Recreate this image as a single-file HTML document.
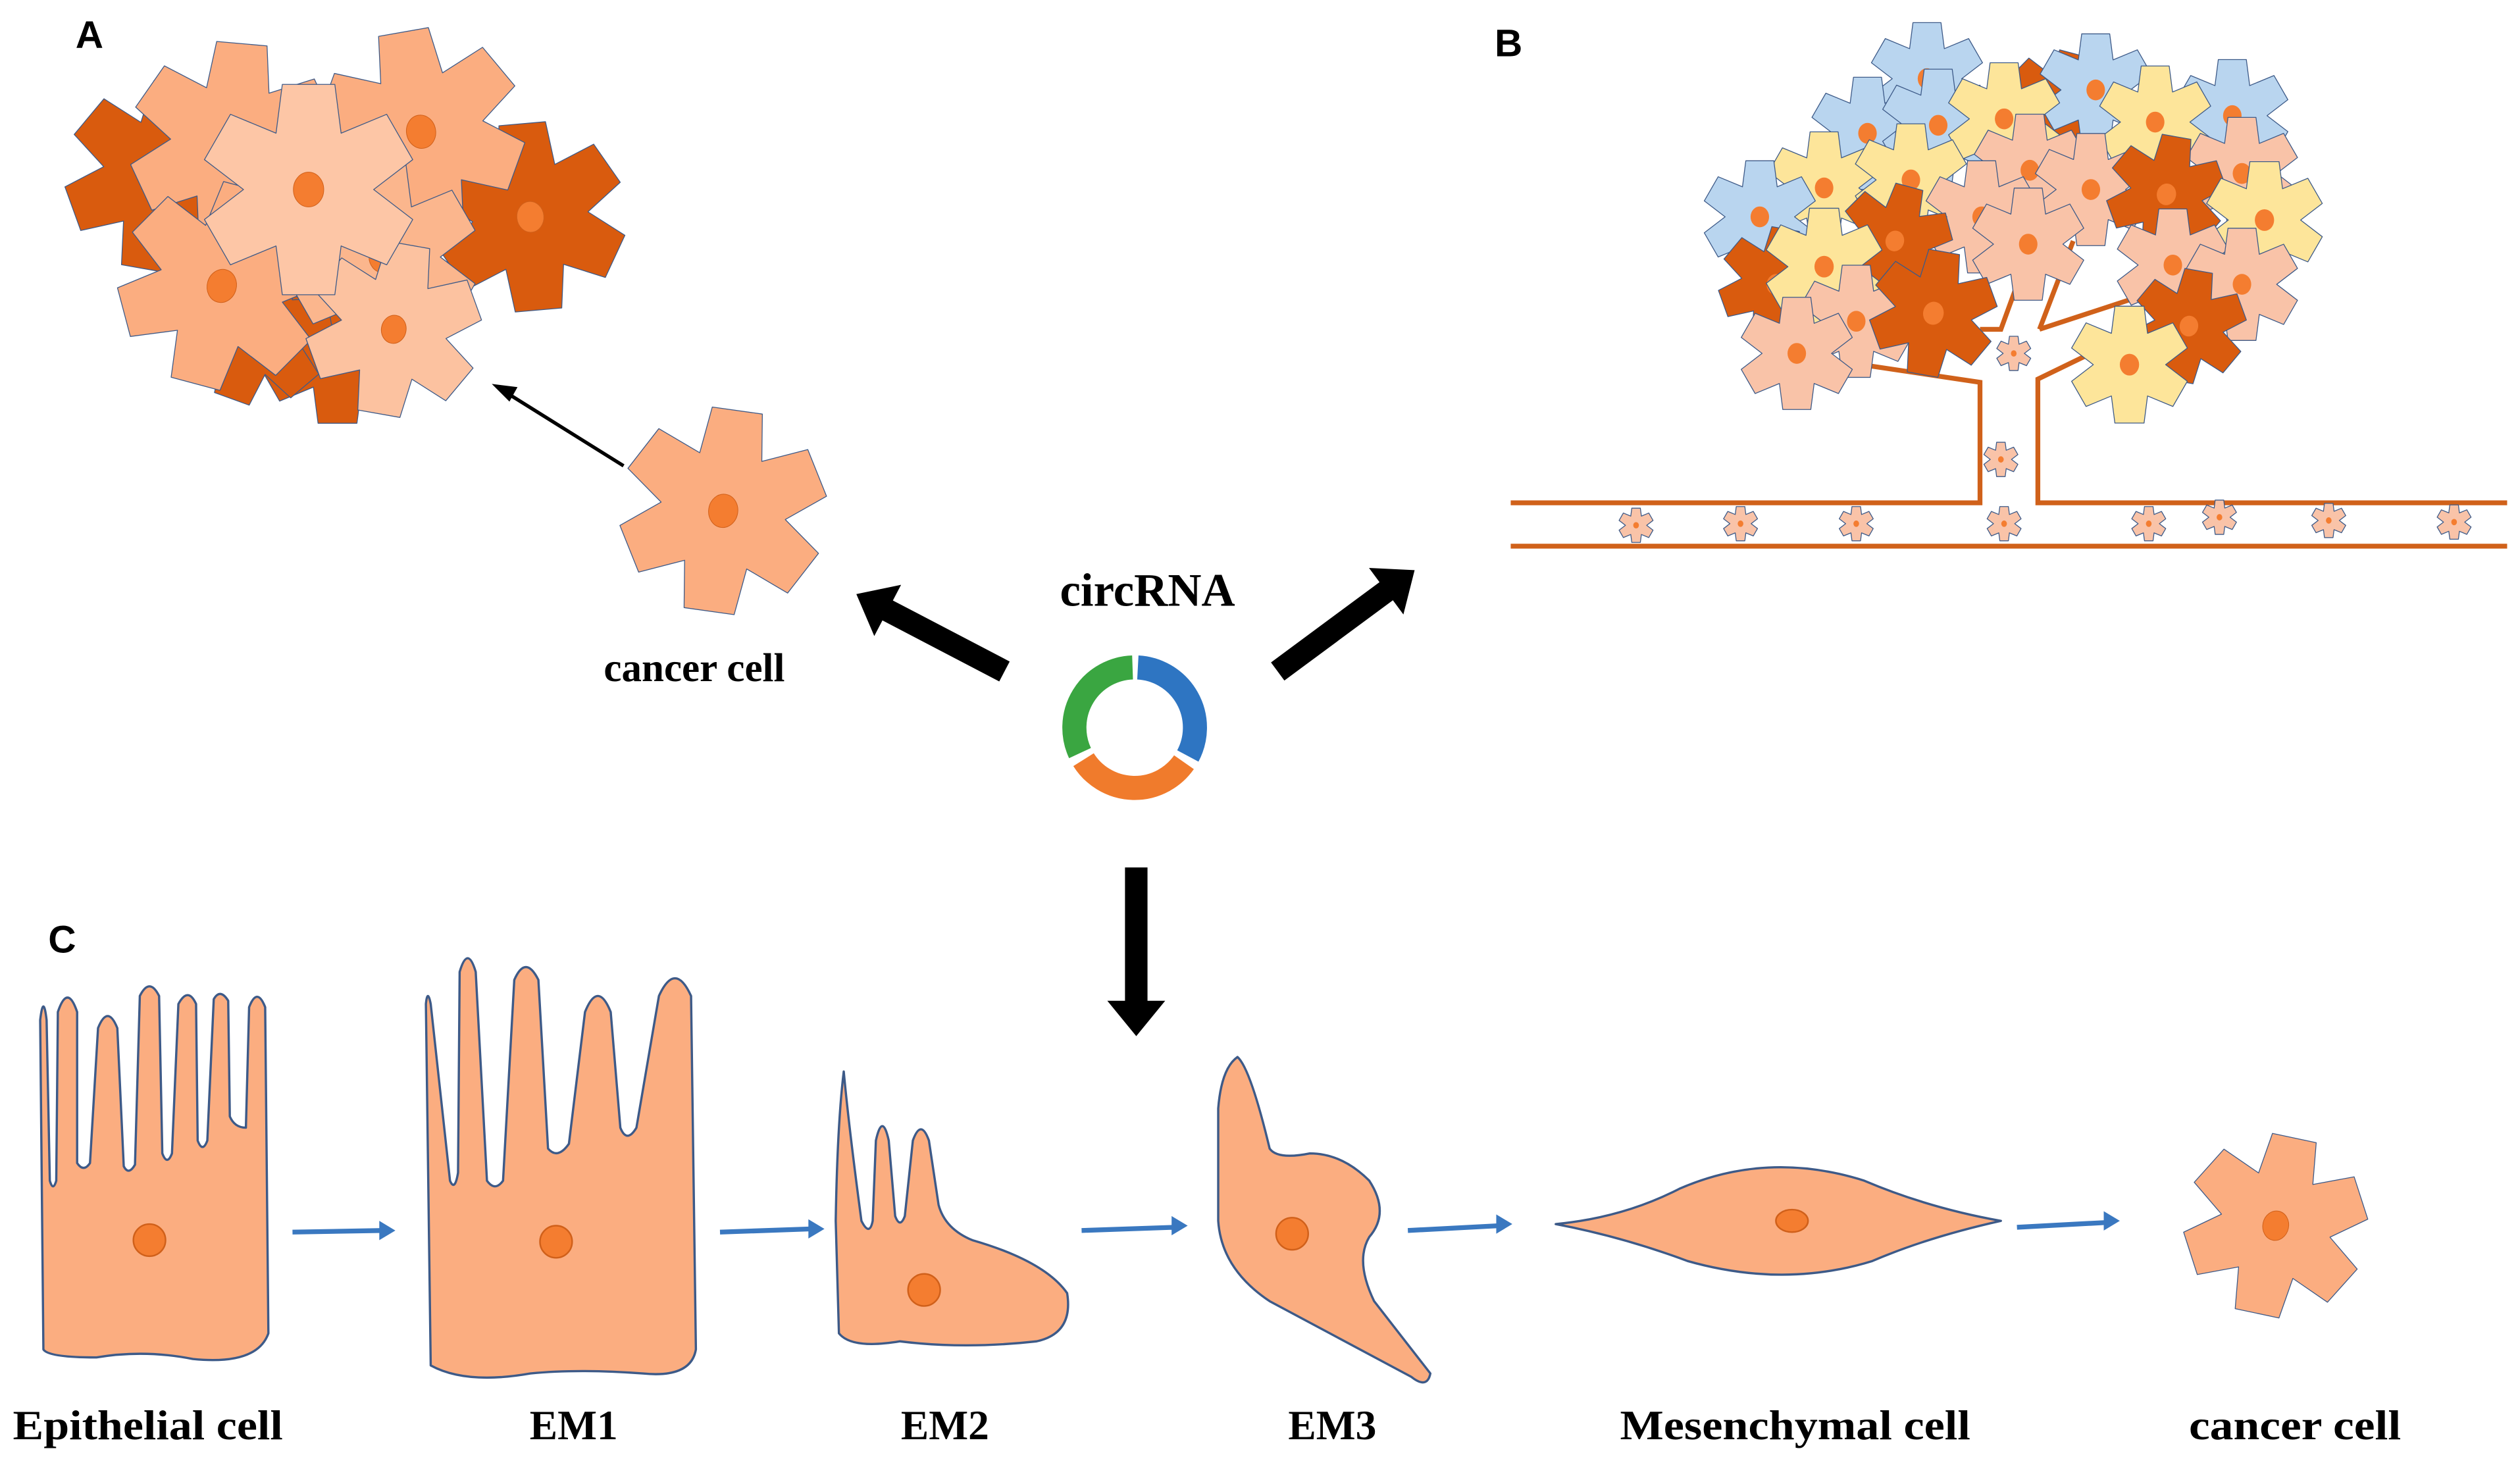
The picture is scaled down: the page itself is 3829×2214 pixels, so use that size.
<!DOCTYPE html>
<html><head><meta charset="utf-8"><style>html,body{margin:0;padding:0;background:#fff}svg{display:block}</style></head>
<body>
<svg width="3829" height="2214" viewBox="0 0 1568 907" preserveAspectRatio="none" xmlns="http://www.w3.org/2000/svg">
<defs>
<path id="st" d="M-12.1,-48.5 L12.1,-48.5 L15,-26 L36,-34.7 L48,-13.8 L30,0 L48,13.8 L36,34.7 L15,26 L12.1,48.5 L-12.1,48.5 L-15,26 L-36,34.7 L-48,13.8 L-30,0 L-48,-13.8 L-36,-34.7 L-15,-26 Z" stroke="#3d5a88" stroke-width="1.3" stroke-linejoin="round" vector-effect="non-scaling-stroke"/>
<g id="cell"><use href="#st"/><ellipse cx="0" cy="0" rx="7" ry="8" fill="#f47d30" stroke="#d0601a" stroke-width="1" vector-effect="non-scaling-stroke"/></g>
<g id="cellB"><use href="#st"/><ellipse cx="0" cy="0" rx="8" ry="9" fill="#f47d30"/></g>
</defs>

<g font-family="Liberation Sans, sans-serif" font-weight="bold" font-size="24" fill="#000">
<text x="47" y="30">A</text><text x="930" y="35">B</text><text x="30" y="593">C</text>
</g>

<!-- Panel A cluster -->
<g>
<use href="#cell" fill="#d95b0e" transform="translate(100,110) rotate(10) scale(1.2)"/>
<use href="#cell" fill="#d95b0e" transform="translate(330,135) rotate(-5) scale(1.2)"/>
<use href="#cell" fill="#d95b0e" transform="translate(210,215) rotate(0) scale(1.0)"/>
<use href="#cell" fill="#d95b0e" transform="translate(160,205) rotate(20) scale(0.95)"/>
<use href="#cell" fill="#fbad80" transform="translate(145,90) rotate(5) scale(1.3)"/>
<use href="#cell" fill="#fbad80" transform="translate(262,82) rotate(-10) scale(1.3)"/>
<use href="#cell" fill="#fbad80" transform="translate(138,178) rotate(15) scale(1.3)"/>
<use href="#cell" fill="#fbb68d" transform="translate(238,160) rotate(0) scale(1.2)"/>
<use href="#cell" fill="#fcc2a0" transform="translate(245,205) rotate(10) scale(1.1)"/>
<use href="#cell" fill="#fdc6a6" transform="translate(192,118) rotate(0) scale(1.35)"/>
</g>
<line x1="388" y1="290" x2="316" y2="245" stroke="#000" stroke-width="2.2"/>
<polygon points="306,239 322,241 317,250" fill="#000"/>

<use href="#cell" fill="#fbad80" transform="translate(450,318) rotate(8) scale(1.3)"/>
<text x="432" y="424" text-anchor="middle" font-family="Liberation Serif, serif" font-weight="bold" font-size="25">cancer cell</text>

<!-- circRNA -->
<text x="714" y="377" text-anchor="middle" font-family="Liberation Serif, serif" font-weight="bold" font-size="29">circRNA</text>
<g fill="none" stroke-width="15">
<path d="M708,415.5 A37.5,37.5 0 0 1 739.1,470.6" stroke="#2e75c2"/>
<path d="M736.7,474.5 A37.5,37.5 0 0 1 674.2,472.9" stroke="#f07b2c"/>
<path d="M672,468.8 A37.5,37.5 0 0 1 704.7,415.5" stroke="#3aa641"/>
</g>

<!-- black arrows -->
<g fill="#000">
<g transform="translate(625,418) rotate(207.6)"><rect x="0" y="-7" width="84" height="14"/><polygon points="82,-18 104,0 82,18"/></g>
<g transform="translate(795,418) rotate(-36.5)"><rect x="0" y="-7" width="86" height="14"/><polygon points="84,-18 106,0 84,18"/></g>
<g transform="translate(707,540) rotate(90)"><rect x="0" y="-7" width="85" height="14"/><polygon points="83,-18 105,0 83,18"/></g>
</g>

<!-- Panel B -->
<g stroke="#d0611a" stroke-width="3" fill="none">
<polyline points="940,313 1232,313 1232,238 1145,225"/>
<polyline points="1560,313 1268,313 1268,236 1305,218"/>
<line x1="940" y1="340" x2="1560" y2="340"/>
<polyline points="1269,205 1330,185"/>
<polyline points="1269,205 1290,150"/>
<polyline points="1232,205 1245,205 1265,150"/>
</g>
<g>
<use href="#cellB" fill="#b9d5ef" transform="translate(1199,49) scale(0.72)"/>
<use href="#cellB" fill="#d95b0e" transform="translate(1281,67) rotate(15) scale(0.72)"/>
<use href="#cellB" fill="#b9d5ef" transform="translate(1304,56) scale(0.72)"/>
<use href="#cellB" fill="#b9d5ef" transform="translate(1389,72) scale(0.72)"/>
<use href="#cellB" fill="#b9d5ef" transform="translate(1162,83) scale(0.72)"/>
<use href="#cellB" fill="#b9d5ef" transform="translate(1206,78) scale(0.72)"/>
<use href="#cellB" fill="#fde59a" transform="translate(1247,74) scale(0.72)"/>
<use href="#cellB" fill="#fde59a" transform="translate(1341,76) scale(0.72)"/>
<use href="#cellB" fill="#f9c3a8" transform="translate(1395,108) scale(0.72)"/>
<use href="#cellB" fill="#f9c3a8" transform="translate(1263,106) scale(0.72)"/>
<use href="#cellB" fill="#f9c3a8" transform="translate(1301,118) scale(0.72)"/>
<use href="#cellB" fill="#fde59a" transform="translate(1135,117) scale(0.72)"/>
<use href="#cellB" fill="#fde59a" transform="translate(1189,112) scale(0.72)"/>
<use href="#cellB" fill="#b9d5ef" transform="translate(1095,135) scale(0.72)"/>
<use href="#cellB" fill="#d95b0e" transform="translate(1348,121) rotate(10) scale(0.75)"/>
<use href="#cellB" fill="#f9c3a8" transform="translate(1233,135) scale(0.72)"/>
<use href="#cellB" fill="#f9c3a8" transform="translate(1262,152) scale(0.72)"/>
<use href="#cellB" fill="#fde59a" transform="translate(1409,137) scale(0.75)"/>
<use href="#cellB" fill="#d95b0e" transform="translate(1105,177) rotate(10) scale(0.72)"/>
<use href="#cellB" fill="#d95b0e" transform="translate(1179,150) rotate(15) scale(0.72)"/>
<use href="#cellB" fill="#fde59a" transform="translate(1135,166) scale(0.75)"/>
<use href="#cellB" fill="#f9c3a8" transform="translate(1352,165) scale(0.72)"/>
<use href="#cellB" fill="#f9c3a8" transform="translate(1395,177) scale(0.72)"/>
<use href="#cellB" fill="#f9c3a8" transform="translate(1155,200) scale(0.72)"/>
<use href="#cellB" fill="#d95b0e" transform="translate(1203,195) rotate(10) scale(0.8)"/>
<use href="#cellB" fill="#f9c3a8" transform="translate(1118,220) scale(0.72)"/>
<use href="#cellB" fill="#d95b0e" transform="translate(1362,203) rotate(10) scale(0.72)"/>
<use href="#cellB" fill="#fde59a" transform="translate(1325,227) scale(0.75)"/>
</g>
<g fill="#f9c3a8">
<use href="#cellB" transform="translate(1253,220) scale(0.22)"/>
<use href="#cellB" transform="translate(1245,286) scale(0.22)"/>
<use href="#cellB" transform="translate(1018,327) scale(0.22)"/>
<use href="#cellB" transform="translate(1083,326) scale(0.22)"/>
<use href="#cellB" transform="translate(1155,326) scale(0.22)"/>
<use href="#cellB" transform="translate(1247,326) scale(0.22)"/>
<use href="#cellB" transform="translate(1337,326) scale(0.22)"/>
<use href="#cellB" transform="translate(1381,322) scale(0.22)"/>
<use href="#cellB" transform="translate(1449,324) scale(0.22)"/>
<use href="#cellB" transform="translate(1527,325) scale(0.22)"/>
</g>

<!-- Panel C -->
<g fill="#fbad80" stroke="#3d5a88" stroke-width="1.4" stroke-linejoin="round">
<path d="M27,840 L25,635 Q27,618 29,635 L31,735 Q33,742 35,735 L36,630 Q42,612 48,630 L48,724 Q52,730 56,724 L61,640 Q67,625 73,640 L77,726 Q80,732 84,725 L87,620 Q93,608 99,620 L101,718 Q104,726 107,718 L111,625 Q117,614 122,625 L123,710 Q126,718 129,710 L133,622 Q137,615 142,623 L143,695 Q146,702 153,702 L155,627 Q160,614 165,627 L167,830 Q160,850 120,846 Q90,840 60,845 Q30,845 27,840 Z"/>
<path d="M268,850 L265,625 Q266,615 268,625 L280,735 Q283,742 285,730 L286,605 Q291,588 296,605 L303,735 Q308,742 313,735 L320,610 Q327,594 335,610 L341,715 Q347,722 354,712 L364,630 Q372,610 380,630 L386,702 Q390,712 396,702 L410,620 Q420,598 430,620 L433,840 Q430,858 400,855 Q360,852 330,855 Q290,862 268,850 Z"/>
<path d="M522,830 L520,760 Q521,700 525,667 Q528,700 536,760 Q541,770 543,760 L545,710 Q549,692 553,710 L557,757 Q560,765 563,757 L568,710 Q573,696 578,710 L584,750 Q588,765 605,772 Q650,785 664,805 Q668,830 645,835 Q600,840 560,835 Q530,840 522,830 Z"/>
<path d="M770,658 Q778,665 790,715 Q795,722 815,718 Q835,718 852,735 Q865,755 852,770 Q843,785 855,810 L890,855 Q888,865 878,857 L790,810 Q760,790 758,760 L758,690 Q760,665 770,658 Z"/>
<path d="M968,762 Q1010,758 1045,740 Q1100,716 1160,735 Q1200,752 1245,760 Q1200,770 1165,785 Q1110,802 1050,785 Q1010,770 968,762 Z"/>
</g>
<g fill="#f47d30" stroke="#d0601a" stroke-width="1">
<ellipse cx="93" cy="772" rx="10" ry="10"/>
<ellipse cx="346" cy="773" rx="10" ry="10"/>
<ellipse cx="575" cy="803" rx="10" ry="10"/>
<ellipse cx="804" cy="768" rx="10" ry="10"/>
<ellipse cx="1115" cy="760" rx="10" ry="7"/>
</g>
<use href="#cell" fill="#fbad80" transform="translate(1416,763) rotate(12) scale(1.15)"/>

<g stroke="#3a78c0" stroke-width="3" fill="#3a78c0">
<line x1="182" y1="767" x2="238" y2="766"/><polygon points="246,766 236,760 236,772" stroke="none"/>
<line x1="448" y1="767" x2="505" y2="765"/><polygon points="513,765 503,759 503,771" stroke="none"/>
<line x1="673" y1="766" x2="731" y2="764"/><polygon points="739,763 729,757 729,769" stroke="none"/>
<line x1="876" y1="766" x2="933" y2="763"/><polygon points="941,762 931,756 931,768" stroke="none"/>
<line x1="1255" y1="764" x2="1311" y2="761"/><polygon points="1319,760 1309,754 1309,766" stroke="none"/>
</g>

<g font-family="Liberation Serif, serif" font-weight="bold" font-size="26" text-anchor="middle">
<text x="92" y="896" textLength="168" lengthAdjust="spacingAndGlyphs">Epithelial cell</text>
<text x="357" y="896">EM1</text>
<text x="588" y="896">EM2</text>
<text x="829" y="896">EM3</text>
<text x="1117" y="896" textLength="218" lengthAdjust="spacingAndGlyphs">Mesenchymal cell</text>
<text x="1428" y="896" textLength="132" lengthAdjust="spacingAndGlyphs">cancer cell</text>
</g>
</svg>
</body></html>
